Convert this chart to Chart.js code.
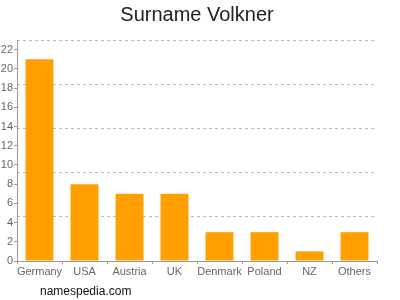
<!DOCTYPE html>
<html>
<head>
<meta charset="utf-8">
<script src="https://cdn.jsdelivr.net/npm/chart.js@4"></script>
<style>
    html, body { margin: 0; padding: 0; background: #fff; }
    #wrap { width: 400px; height: 300px; }
</style>
</head>
<body>
<div id="wrap"><canvas id="chart" width="400" height="300"></canvas></div>
<script>
// Surname counts by country
const countries = ["Germany", "USA", "Austria", "UK", "Denmark", "Poland", "NZ", "Others"];
const counts = [21, 8, 7, 7, 3, 3, 1, 3];

const TITLE = "Surname Volkner";
const CREDIT = "namespedia.com";

const BAR = "#ffa000";
const AXIS = "#999999";
const LABEL = "#666666";
const FONT = "'Liberation Sans', Arial, sans-serif";

// Title over the whole picture and the site credit under the chart
const textPlugin = {
    id: "texts",
    afterDraw(chart) {
        const ctx = chart.ctx;
        ctx.save();
        ctx.textBaseline = "middle";
        ctx.font = "20px " + FONT;
        ctx.fillStyle = "#222222";
        ctx.textAlign = "center";
        ctx.fillText(TITLE, 197, 15);
        ctx.font = "12px " + FONT;
        ctx.fillStyle = "#111111";
        ctx.textAlign = "left";
        ctx.fillText(CREDIT, 40, 292);
        ctx.restore();
    }
};

new Chart(document.getElementById("chart"), {
    type: "bar",
    data: {
        labels: countries,
        datasets: [{
            data: counts,
            backgroundColor: BAR,
            borderWidth: 0,
            barPercentage: 0.62,
            categoryPercentage: 1
        }]
    },
    options: {
        responsive: false,
        animation: false,
        layout: { padding: { left: 0, right: 23, top: 40, bottom: 0 } },
        plugins: {
            legend: { display: false },
            tooltip: { enabled: false },
            title: { display: false }
        },
        scales: {
            x: {
                grid: {
                    drawOnChartArea: false,
                    drawTicks: true,
                    tickLength: 3,
                    color: AXIS
                },
                border: { color: AXIS },
                ticks: {
                    color: LABEL,
                    font: { family: FONT, size: 11 },
                    padding: 1,
                    maxRotation: 0,
                    autoSkip: false
                },
                afterFit(scale) { scale.height = 39; }
            },
            y: {
                min: 0,
                max: 23,
                grid: {
                    drawOnChartArea: false,
                    drawTicks: true,
                    tickLength: 3,
                    color: AXIS
                },
                border: { color: AXIS },
                ticks: {
                    stepSize: 2,
                    includeBounds: false,
                    color: LABEL,
                    font: { family: FONT, size: 11 },
                    padding: 1
                },
                afterFit(scale) { scale.width = 17; }
            },
            grid: {
                position: "left",
                min: 0,
                max: 23,
                grid: {
                    drawTicks: false,
                    color: "#bbbbbb"
                },
                border: { display: false, dash: [3, 3] },
                ticks: { display: false, stepSize: 4.6 },
                afterFit(scale) { scale.width = 0; }
            }
        }
    },
    plugins: [textPlugin]
});
</script>
</body>
</html>
